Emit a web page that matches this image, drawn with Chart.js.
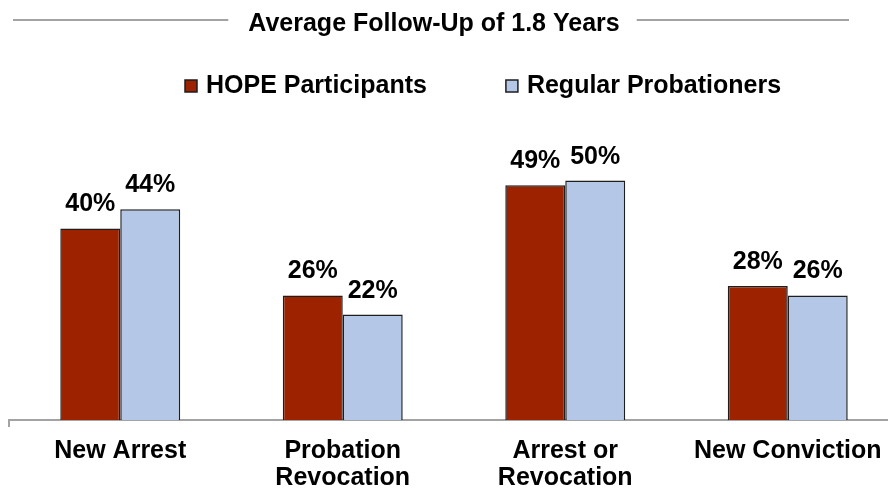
<!DOCTYPE html>
<html>
<head>
<meta charset="utf-8">
<script src="https://cdn.jsdelivr.net/npm/chart.js@4.4.1/dist/chart.umd.min.js"></script>
<style>
  html, body { margin: 0; padding: 0; background: #ffffff; overflow: hidden; }
  #wrap { width: 888px; height: 489px; overflow: hidden; }
</style>
</head>
<body>
<div id="wrap"><canvas id="c" width="899" height="489"></canvas></div>
<script>
// Outcome categories (multi-line labels where the text wraps)
const categories = [
  'New Arrest',
  ['Probation', 'Revocation'],
  ['Arrest or', 'Revocation'],
  'New Conviction'
];
// Percent of each group with the outcome
const hopeValues = [40, 26, 49, 28];
const regularValues = [44, 22, 50, 26];
const seriesNames = ['HOPE Participants', 'Regular Probationers'];
const chartTitle = 'Average Follow-Up of 1.8 Years';

const FONT = "'Liberation Sans', Arial, sans-serif";
const RED = '#9c2200';
const BLUE = '#b4c7e7';
const EDGE = '#1e1e1e';
const RULE = '#a3a3a3';

// Title flanked by horizontal rules, plus a hand-laid legend
const headerPlugin = {
  id: 'header',
  afterDraw(chart) {
    const ctx = chart.ctx;
    ctx.save();
    ctx.font = 'bold 25px ' + FONT;
    ctx.fillStyle = '#000';
    ctx.textBaseline = 'alphabetic';
    ctx.textAlign = 'left';
    const tw = ctx.measureText(chartTitle).width;
    const cx = 434;
    const tx = cx - tw / 2;
    ctx.fillText(chartTitle, tx, 31);
    ctx.strokeStyle = RULE;
    ctx.lineWidth = 2;
    ctx.beginPath();
    ctx.moveTo(13, 20); ctx.lineTo(tx - 20, 20);
    ctx.moveTo(tx + tw + 17, 20); ctx.lineTo(849, 20);
    ctx.stroke();

    // legend
    let x = 185;
    const boxY = 80;
    chart.data.datasets.forEach((ds) => {
      ctx.fillStyle = ds.backgroundColor;
      ctx.fillRect(x, boxY, 12, 12);
      ctx.strokeStyle = EDGE;
      ctx.lineWidth = 1.5;
      ctx.strokeRect(x, boxY, 12, 12);
      ctx.fillStyle = '#000';
      ctx.fillText(ds.label, x + 21, 93);
      x += 21 + ctx.measureText(ds.label).width + 79;
    });
    ctx.restore();
  }
};

// Value labels above each bar
const valueLabels = {
  id: 'valueLabels',
  afterDatasetsDraw(chart) {
    const ctx = chart.ctx;
    ctx.save();
    ctx.font = 'bold 25px ' + FONT;
    ctx.fillStyle = '#000';
    ctx.textAlign = 'center';
    ctx.textBaseline = 'alphabetic';
    chart.data.datasets.forEach((ds, di) => {
      chart.getDatasetMeta(di).data.forEach((bar, i) => {
        ctx.fillText(ds.data[i] + '%', bar.x, bar.y - 17);
      });
    });
    ctx.restore();
  }
};

new Chart(document.getElementById('c'), {
  type: 'bar',
  data: {
    labels: categories,
    datasets: [
      { label: seriesNames[0], data: hopeValues, backgroundColor: RED, borderColor: EDGE, borderWidth: 1.5 },
      { label: seriesNames[1], data: regularValues, backgroundColor: BLUE, borderColor: EDGE, borderWidth: 1.5 }
    ]
  },
  options: {
    responsive: false,
    animation: false,
    devicePixelRatio: 1,
    layout: { padding: { top: 135, left: 9, right: 0, bottom: 0 } },
    datasets: { bar: { categoryPercentage: 0.539, barPercentage: 1.0 } },
    plugins: {
      legend: { display: false },
      title: { display: false },
      tooltip: { enabled: false }
    },
    scales: {
      x: {
        offset: true,
        afterFit(scale) { scale.height = 69; },
        border: { display: true, color: RULE, width: 2 },
        grid: {
          offset: true,
          drawOnChartArea: false,
          drawTicks: true,
          tickLength: 7,
          lineWidth: 2,
          color: (c) => (c.index === 0 ? RULE : 'rgba(0,0,0,0)')
        },
        ticks: {
          color: '#000',
          font: { family: FONT, size: 25, weight: 'bold', lineHeight: 1.08 },
          padding: 11,
          maxRotation: 0,
          autoSkip: false
        }
      },
      y: {
        display: false,
        min: 0,
        max: 59.5
      }
    }
  },
  plugins: [headerPlugin, valueLabels]
});
</script>
</body>
</html>
